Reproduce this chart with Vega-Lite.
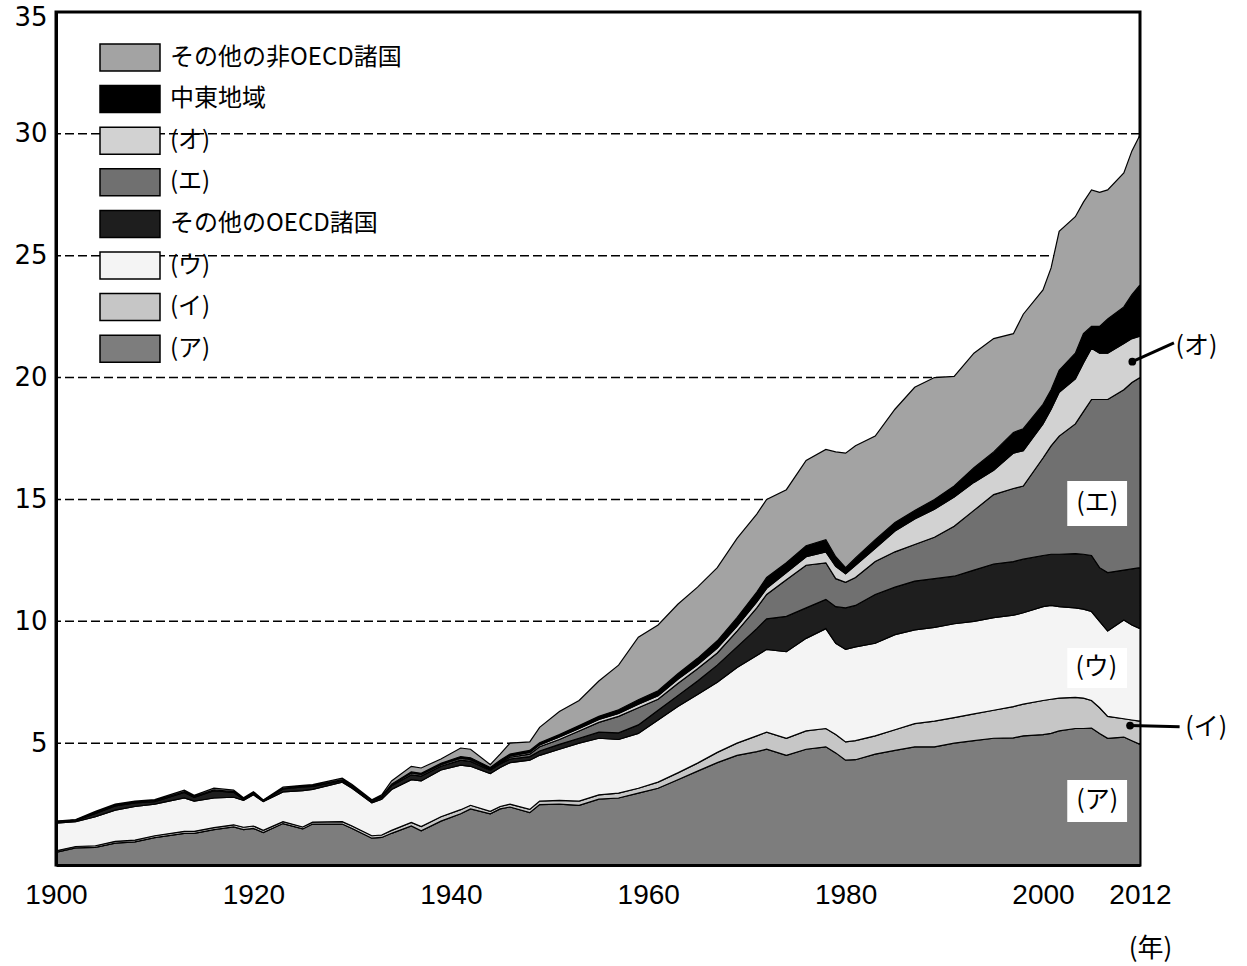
{
  "$schema": "https://vega.github.io/schema/vega-lite/v6.json",
  "width": 1084,
  "height": 853,
  "autosize": {"type": "none"},
  "padding": {"left": 56, "top": 12, "right": 107, "bottom": 101},
  "background": "white",
  "config": {"view": {"stroke": "black", "strokeWidth": 3}, "font": "Noto Sans CJK JP"},
  "datasets": {
    "em": [
{"year":1900,"s":"(ア)","v":0.52},{"year":1900,"s":"(イ)","v":0.06},{"year":1900,"s":"(ウ)","v":1.14},{"year":1900,"s":"その他のOECD諸国","v":0.04},{"year":1900,"s":"(エ)","v":0.01},{"year":1900,"s":"(オ)","v":0.01},{"year":1900,"s":"中東地域","v":0},{"year":1900,"s":"その他の非OECD諸国","v":0.02},
{"year":1902,"s":"(ア)","v":0.70},{"year":1902,"s":"(イ)","v":0.06},{"year":1902,"s":"(ウ)","v":1.02},{"year":1902,"s":"その他のOECD諸国","v":0.04},{"year":1902,"s":"(エ)","v":0.01},{"year":1902,"s":"(オ)","v":0.01},{"year":1902,"s":"中東地域","v":0},{"year":1902,"s":"その他の非OECD諸国","v":0.02},
{"year":1904,"s":"(ア)","v":0.72},{"year":1904,"s":"(イ)","v":0.07},{"year":1904,"s":"(ウ)","v":1.19},{"year":1904,"s":"その他のOECD諸国","v":0.14},{"year":1904,"s":"(エ)","v":0.02},{"year":1904,"s":"(オ)","v":0.01},{"year":1904,"s":"中東地域","v":0},{"year":1904,"s":"その他の非OECD諸国","v":0.05},
{"year":1906,"s":"(ア)","v":0.90},{"year":1906,"s":"(イ)","v":0.07},{"year":1906,"s":"(ウ)","v":1.28},{"year":1906,"s":"その他のOECD諸国","v":0.17},{"year":1906,"s":"(エ)","v":0.02},{"year":1906,"s":"(オ)","v":0.01},{"year":1906,"s":"中東地域","v":0},{"year":1906,"s":"その他の非OECD諸国","v":0.05},
{"year":1908,"s":"(ア)","v":0.95},{"year":1908,"s":"(イ)","v":0.07},{"year":1908,"s":"(ウ)","v":1.38},{"year":1908,"s":"その他のOECD諸国","v":0.15},{"year":1908,"s":"(エ)","v":0.02},{"year":1908,"s":"(オ)","v":0.01},{"year":1908,"s":"中東地域","v":0},{"year":1908,"s":"その他の非OECD諸国","v":0.04},
{"year":1910,"s":"(ア)","v":1.12},{"year":1910,"s":"(イ)","v":0.08},{"year":1910,"s":"(ウ)","v":1.30},{"year":1910,"s":"その他のOECD諸国","v":0.10},{"year":1910,"s":"(エ)","v":0.02},{"year":1910,"s":"(オ)","v":0.01},{"year":1910,"s":"中東地域","v":0},{"year":1910,"s":"その他の非OECD諸国","v":0.05},
{"year":1913,"s":"(ア)","v":1.30},{"year":1913,"s":"(イ)","v":0.08},{"year":1913,"s":"(ウ)","v":1.37},{"year":1913,"s":"その他のOECD諸国","v":0.23},{"year":1913,"s":"(エ)","v":0.02},{"year":1913,"s":"(オ)","v":0.01},{"year":1913,"s":"中東地域","v":0},{"year":1913,"s":"その他の非OECD諸国","v":0.06},
{"year":1914,"s":"(ア)","v":1.30},{"year":1914,"s":"(イ)","v":0.08},{"year":1914,"s":"(ウ)","v":1.24},{"year":1914,"s":"その他のOECD諸国","v":0.16},{"year":1914,"s":"(エ)","v":0.02},{"year":1914,"s":"(オ)","v":0.01},{"year":1914,"s":"中東地域","v":0},{"year":1914,"s":"その他の非OECD諸国","v":0.05},
{"year":1916,"s":"(ア)","v":1.45},{"year":1916,"s":"(イ)","v":0.08},{"year":1916,"s":"(ウ)","v":1.22},{"year":1916,"s":"その他のOECD諸国","v":0.30},{"year":1916,"s":"(エ)","v":0.02},{"year":1916,"s":"(オ)","v":0.01},{"year":1916,"s":"中東地域","v":0},{"year":1916,"s":"その他の非OECD諸国","v":0.07},
{"year":1918,"s":"(ア)","v":1.56},{"year":1918,"s":"(イ)","v":0.09},{"year":1918,"s":"(ウ)","v":1.13},{"year":1918,"s":"その他のOECD諸国","v":0.20},{"year":1918,"s":"(エ)","v":0.02},{"year":1918,"s":"(オ)","v":0.01},{"year":1918,"s":"中東地域","v":0},{"year":1918,"s":"その他の非OECD諸国","v":0.06},
{"year":1919,"s":"(ア)","v":1.45},{"year":1919,"s":"(イ)","v":0.10},{"year":1919,"s":"(ウ)","v":1.10},{"year":1919,"s":"その他のOECD諸国","v":0.05},{"year":1919,"s":"(エ)","v":0.01},{"year":1919,"s":"(オ)","v":0.01},{"year":1919,"s":"中東地域","v":0},{"year":1919,"s":"その他の非OECD諸国","v":0.04},
{"year":1920,"s":"(ア)","v":1.50},{"year":1920,"s":"(イ)","v":0.10},{"year":1920,"s":"(ウ)","v":1.28},{"year":1920,"s":"その他のOECD諸国","v":0.07},{"year":1920,"s":"(エ)","v":0.01},{"year":1920,"s":"(オ)","v":0.01},{"year":1920,"s":"中東地域","v":0},{"year":1920,"s":"その他の非OECD諸国","v":0.04},
{"year":1921,"s":"(ア)","v":1.33},{"year":1921,"s":"(イ)","v":0.09},{"year":1921,"s":"(ウ)","v":1.18},{"year":1921,"s":"その他のOECD諸国","v":0.03},{"year":1921,"s":"(エ)","v":0.01},{"year":1921,"s":"(オ)","v":0.01},{"year":1921,"s":"中東地域","v":0},{"year":1921,"s":"その他の非OECD諸国","v":0.02},
{"year":1923,"s":"(ア)","v":1.70},{"year":1923,"s":"(イ)","v":0.08},{"year":1923,"s":"(ウ)","v":1.22},{"year":1923,"s":"その他のOECD諸国","v":0.12},{"year":1923,"s":"(エ)","v":0.02},{"year":1923,"s":"(オ)","v":0.01},{"year":1923,"s":"中東地域","v":0},{"year":1923,"s":"その他の非OECD諸国","v":0.05},
{"year":1925,"s":"(ア)","v":1.48},{"year":1925,"s":"(イ)","v":0.08},{"year":1925,"s":"(ウ)","v":1.49},{"year":1925,"s":"その他のOECD諸国","v":0.15},{"year":1925,"s":"(エ)","v":0.02},{"year":1925,"s":"(オ)","v":0.01},{"year":1925,"s":"中東地域","v":0},{"year":1925,"s":"その他の非OECD諸国","v":0.04},
{"year":1926,"s":"(ア)","v":1.68},{"year":1926,"s":"(イ)","v":0.08},{"year":1926,"s":"(ウ)","v":1.34},{"year":1926,"s":"その他のOECD諸国","v":0.12},{"year":1926,"s":"(エ)","v":0.02},{"year":1926,"s":"(オ)","v":0.01},{"year":1926,"s":"中東地域","v":0},{"year":1926,"s":"その他の非OECD諸国","v":0.05},
{"year":1929,"s":"(ア)","v":1.68},{"year":1929,"s":"(イ)","v":0.10},{"year":1929,"s":"(ウ)","v":1.62},{"year":1929,"s":"その他のOECD諸国","v":0.06},{"year":1929,"s":"(エ)","v":0.02},{"year":1929,"s":"(オ)","v":0.01},{"year":1929,"s":"中東地域","v":0.01},{"year":1929,"s":"その他の非OECD諸国","v":0.06},
{"year":1930,"s":"(ア)","v":1.50},{"year":1930,"s":"(イ)","v":0.10},{"year":1930,"s":"(ウ)","v":1.55},{"year":1930,"s":"その他のOECD諸国","v":0.05},{"year":1930,"s":"(エ)","v":0.02},{"year":1930,"s":"(オ)","v":0.01},{"year":1930,"s":"中東地域","v":0.01},{"year":1930,"s":"その他の非OECD諸国","v":0.06},
{"year":1932,"s":"(ア)","v":1.10},{"year":1932,"s":"(イ)","v":0.10},{"year":1932,"s":"(ウ)","v":1.35},{"year":1932,"s":"その他のOECD諸国","v":0.05},{"year":1932,"s":"(エ)","v":0.02},{"year":1932,"s":"(オ)","v":0.01},{"year":1932,"s":"中東地域","v":0.01},{"year":1932,"s":"その他の非OECD諸国","v":0.04},
{"year":1933,"s":"(ア)","v":1.13},{"year":1933,"s":"(イ)","v":0.10},{"year":1933,"s":"(ウ)","v":1.47},{"year":1933,"s":"その他のOECD諸国","v":0.08},{"year":1933,"s":"(エ)","v":0.02},{"year":1933,"s":"(オ)","v":0.01},{"year":1933,"s":"中東地域","v":0.01},{"year":1933,"s":"その他の非OECD諸国","v":0.06},
{"year":1934,"s":"(ア)","v":1.30},{"year":1934,"s":"(イ)","v":0.12},{"year":1934,"s":"(ウ)","v":1.68},{"year":1934,"s":"その他のOECD諸国","v":0.15},{"year":1934,"s":"(エ)","v":0.05},{"year":1934,"s":"(オ)","v":0.01},{"year":1934,"s":"中東地域","v":0.01},{"year":1934,"s":"その他の非OECD諸国","v":0.13},
{"year":1936,"s":"(ア)","v":1.60},{"year":1936,"s":"(イ)","v":0.15},{"year":1936,"s":"(ウ)","v":1.75},{"year":1936,"s":"その他のOECD諸国","v":0.20},{"year":1936,"s":"(エ)","v":0.08},{"year":1936,"s":"(オ)","v":0.02},{"year":1936,"s":"中東地域","v":0.02},{"year":1936,"s":"その他の非OECD諸国","v":0.23},
{"year":1937,"s":"(ア)","v":1.40},{"year":1937,"s":"(イ)","v":0.18},{"year":1937,"s":"(ウ)","v":1.87},{"year":1937,"s":"その他のOECD諸国","v":0.20},{"year":1937,"s":"(エ)","v":0.07},{"year":1937,"s":"(オ)","v":0.02},{"year":1937,"s":"中東地域","v":0.02},{"year":1937,"s":"その他の非OECD諸国","v":0.22},
{"year":1939,"s":"(ア)","v":1.80},{"year":1939,"s":"(イ)","v":0.18},{"year":1939,"s":"(ウ)","v":1.92},{"year":1939,"s":"その他のOECD諸国","v":0.15},{"year":1939,"s":"(エ)","v":0.07},{"year":1939,"s":"(オ)","v":0.03},{"year":1939,"s":"中東地域","v":0.02},{"year":1939,"s":"その他の非OECD諸国","v":0.18},
{"year":1941,"s":"(ア)","v":2.10},{"year":1941,"s":"(イ)","v":0.17},{"year":1941,"s":"(ウ)","v":1.83},{"year":1941,"s":"その他のOECD諸国","v":0.20},{"year":1941,"s":"(エ)","v":0.08},{"year":1941,"s":"(オ)","v":0.04},{"year":1941,"s":"中東地域","v":0.03},{"year":1941,"s":"その他の非OECD諸国","v":0.35},
{"year":1942,"s":"(ア)","v":2.30},{"year":1942,"s":"(イ)","v":0.15},{"year":1942,"s":"(ウ)","v":1.60},{"year":1942,"s":"その他のOECD諸国","v":0.20},{"year":1942,"s":"(エ)","v":0.07},{"year":1942,"s":"(オ)","v":0.04},{"year":1942,"s":"中東地域","v":0.04},{"year":1942,"s":"その他の非OECD諸国","v":0.35},
{"year":1944,"s":"(ア)","v":2.10},{"year":1944,"s":"(イ)","v":0.10},{"year":1944,"s":"(ウ)","v":1.55},{"year":1944,"s":"その他のOECD諸国","v":0.13},{"year":1944,"s":"(エ)","v":0.05},{"year":1944,"s":"(オ)","v":0.04},{"year":1944,"s":"中東地域","v":0.03},{"year":1944,"s":"その他の非OECD諸国","v":0.12},
{"year":1945,"s":"(ア)","v":2.30},{"year":1945,"s":"(イ)","v":0.10},{"year":1945,"s":"(ウ)","v":1.60},{"year":1945,"s":"その他のOECD諸国","v":0.15},{"year":1945,"s":"(エ)","v":0.05},{"year":1945,"s":"(オ)","v":0.05},{"year":1945,"s":"中東地域","v":0.05},{"year":1945,"s":"その他の非OECD諸国","v":0.25},
{"year":1946,"s":"(ア)","v":2.38},{"year":1946,"s":"(イ)","v":0.12},{"year":1946,"s":"(ウ)","v":1.70},{"year":1946,"s":"その他のOECD諸国","v":0.15},{"year":1946,"s":"(エ)","v":0.07},{"year":1946,"s":"(オ)","v":0.06},{"year":1946,"s":"中東地域","v":0.07},{"year":1946,"s":"その他の非OECD諸国","v":0.45},
{"year":1948,"s":"(ア)","v":2.15},{"year":1948,"s":"(イ)","v":0.13},{"year":1948,"s":"(ウ)","v":2.02},{"year":1948,"s":"その他のOECD諸国","v":0.15},{"year":1948,"s":"(エ)","v":0.10},{"year":1948,"s":"(オ)","v":0.07},{"year":1948,"s":"中東地域","v":0.08},{"year":1948,"s":"その他の非OECD諸国","v":0.35},
{"year":1949,"s":"(ア)","v":2.48},{"year":1949,"s":"(イ)","v":0.14},{"year":1949,"s":"(ウ)","v":1.88},{"year":1949,"s":"その他のOECD諸国","v":0.18},{"year":1949,"s":"(エ)","v":0.17},{"year":1949,"s":"(オ)","v":0.08},{"year":1949,"s":"中東地域","v":0.09},{"year":1949,"s":"その他の非OECD諸国","v":0.63},
{"year":1951,"s":"(ア)","v":2.50},{"year":1951,"s":"(イ)","v":0.15},{"year":1951,"s":"(ウ)","v":2.10},{"year":1951,"s":"その他のOECD諸国","v":0.20},{"year":1951,"s":"(エ)","v":0.20},{"year":1951,"s":"(オ)","v":0.10},{"year":1951,"s":"中東地域","v":0.10},{"year":1951,"s":"その他の非OECD諸国","v":0.95},
{"year":1953,"s":"(ア)","v":2.45},{"year":1953,"s":"(イ)","v":0.17},{"year":1953,"s":"(ウ)","v":2.38},{"year":1953,"s":"その他のOECD諸国","v":0.20},{"year":1953,"s":"(エ)","v":0.30},{"year":1953,"s":"(オ)","v":0.10},{"year":1953,"s":"中東地域","v":0.12},{"year":1953,"s":"その他の非OECD諸国","v":1.03},
{"year":1955,"s":"(ア)","v":2.70},{"year":1955,"s":"(イ)","v":0.18},{"year":1955,"s":"(ウ)","v":2.32},{"year":1955,"s":"その他のOECD諸国","v":0.25},{"year":1955,"s":"(エ)","v":0.40},{"year":1955,"s":"(オ)","v":0.12},{"year":1955,"s":"中東地域","v":0.13},{"year":1955,"s":"その他の非OECD諸国","v":1.45},
{"year":1957,"s":"(ア)","v":2.75},{"year":1957,"s":"(イ)","v":0.20},{"year":1957,"s":"(ウ)","v":2.20},{"year":1957,"s":"その他のOECD諸国","v":0.27},{"year":1957,"s":"(エ)","v":0.68},{"year":1957,"s":"(オ)","v":0.12},{"year":1957,"s":"中東地域","v":0.15},{"year":1957,"s":"その他の非OECD諸国","v":1.83},
{"year":1959,"s":"(ア)","v":2.95},{"year":1959,"s":"(イ)","v":0.20},{"year":1959,"s":"(ウ)","v":2.25},{"year":1959,"s":"その他のOECD諸国","v":0.35},{"year":1959,"s":"(エ)","v":0.70},{"year":1959,"s":"(オ)","v":0.15},{"year":1959,"s":"中東地域","v":0.18},{"year":1959,"s":"その他の非OECD諸国","v":2.57},
{"year":1961,"s":"(ア)","v":3.15},{"year":1961,"s":"(イ)","v":0.25},{"year":1961,"s":"(ウ)","v":2.55},{"year":1961,"s":"その他のOECD諸国","v":0.40},{"year":1961,"s":"(エ)","v":0.45},{"year":1961,"s":"(オ)","v":0.15},{"year":1961,"s":"中東地域","v":0.20},{"year":1961,"s":"その他の非OECD諸国","v":2.70},
{"year":1963,"s":"(ア)","v":3.50},{"year":1963,"s":"(イ)","v":0.28},{"year":1963,"s":"(ウ)","v":2.72},{"year":1963,"s":"その他のOECD諸国","v":0.45},{"year":1963,"s":"(エ)","v":0.50},{"year":1963,"s":"(オ)","v":0.17},{"year":1963,"s":"中東地域","v":0.23},{"year":1963,"s":"その他の非OECD諸国","v":2.85},
{"year":1965,"s":"(ア)","v":3.85},{"year":1965,"s":"(イ)","v":0.33},{"year":1965,"s":"(ウ)","v":2.82},{"year":1965,"s":"その他のOECD諸国","v":0.55},{"year":1965,"s":"(エ)","v":0.50},{"year":1965,"s":"(オ)","v":0.17},{"year":1965,"s":"中東地域","v":0.26},{"year":1965,"s":"その他の非OECD諸国","v":2.92},
{"year":1967,"s":"(ア)","v":4.20},{"year":1967,"s":"(イ)","v":0.42},{"year":1967,"s":"(ウ)","v":2.88},{"year":1967,"s":"その他のOECD諸国","v":0.70},{"year":1967,"s":"(エ)","v":0.50},{"year":1967,"s":"(オ)","v":0.20},{"year":1967,"s":"中東地域","v":0.30},{"year":1967,"s":"その他の非OECD諸国","v":3.00},
{"year":1969,"s":"(ア)","v":4.50},{"year":1969,"s":"(イ)","v":0.50},{"year":1969,"s":"(ウ)","v":3.10},{"year":1969,"s":"その他のOECD諸国","v":0.85},{"year":1969,"s":"(エ)","v":0.65},{"year":1969,"s":"(オ)","v":0.20},{"year":1969,"s":"中東地域","v":0.35},{"year":1969,"s":"その他の非OECD諸国","v":3.25},
{"year":1971,"s":"(ア)","v":4.65},{"year":1971,"s":"(イ)","v":0.65},{"year":1971,"s":"(ウ)","v":3.30},{"year":1971,"s":"その他のOECD諸国","v":1.10},{"year":1971,"s":"(エ)","v":0.85},{"year":1971,"s":"(オ)","v":0.25},{"year":1971,"s":"中東地域","v":0.40},{"year":1971,"s":"その他の非OECD諸国","v":3.20},
{"year":1972,"s":"(ア)","v":4.75},{"year":1972,"s":"(イ)","v":0.70},{"year":1972,"s":"(ウ)","v":3.40},{"year":1972,"s":"その他のOECD諸国","v":1.25},{"year":1972,"s":"(エ)","v":1.00},{"year":1972,"s":"(オ)","v":0.25},{"year":1972,"s":"中東地域","v":0.45},{"year":1972,"s":"その他の非OECD諸国","v":3.20},
{"year":1974,"s":"(ア)","v":4.50},{"year":1974,"s":"(イ)","v":0.70},{"year":1974,"s":"(ウ)","v":3.55},{"year":1974,"s":"その他のOECD諸国","v":1.45},{"year":1974,"s":"(エ)","v":1.50},{"year":1974,"s":"(オ)","v":0.30},{"year":1974,"s":"中東地域","v":0.40},{"year":1974,"s":"その他の非OECD諸国","v":3.00},
{"year":1976,"s":"(ア)","v":4.75},{"year":1976,"s":"(イ)","v":0.75},{"year":1976,"s":"(ウ)","v":3.80},{"year":1976,"s":"その他のOECD諸国","v":1.25},{"year":1976,"s":"(エ)","v":1.75},{"year":1976,"s":"(オ)","v":0.35},{"year":1976,"s":"中東地域","v":0.45},{"year":1976,"s":"その他の非OECD諸国","v":3.50},
{"year":1978,"s":"(ア)","v":4.85},{"year":1978,"s":"(イ)","v":0.75},{"year":1978,"s":"(ウ)","v":4.10},{"year":1978,"s":"その他のOECD諸国","v":1.20},{"year":1978,"s":"(エ)","v":1.50},{"year":1978,"s":"(オ)","v":0.45},{"year":1978,"s":"中東地域","v":0.50},{"year":1978,"s":"その他の非OECD諸国","v":3.70},
{"year":1979,"s":"(ア)","v":4.60},{"year":1979,"s":"(イ)","v":0.75},{"year":1979,"s":"(ウ)","v":3.75},{"year":1979,"s":"その他のOECD諸国","v":1.50},{"year":1979,"s":"(エ)","v":1.15},{"year":1979,"s":"(オ)","v":0.50},{"year":1979,"s":"中東地域","v":0.40},{"year":1979,"s":"その他の非OECD諸国","v":4.30},
{"year":1980,"s":"(ア)","v":4.30},{"year":1980,"s":"(イ)","v":0.75},{"year":1980,"s":"(ウ)","v":3.80},{"year":1980,"s":"その他のOECD諸国","v":1.70},{"year":1980,"s":"(エ)","v":1.05},{"year":1980,"s":"(オ)","v":0.35},{"year":1980,"s":"中東地域","v":0.25},{"year":1980,"s":"その他の非OECD諸国","v":4.70},
{"year":1981,"s":"(ア)","v":4.32},{"year":1981,"s":"(イ)","v":0.78},{"year":1981,"s":"(ウ)","v":3.85},{"year":1981,"s":"その他のOECD諸国","v":1.70},{"year":1981,"s":"(エ)","v":1.15},{"year":1981,"s":"(オ)","v":0.50},{"year":1981,"s":"中東地域","v":0.30},{"year":1981,"s":"その他の非OECD諸国","v":4.60},
{"year":1983,"s":"(ア)","v":4.55},{"year":1983,"s":"(イ)","v":0.75},{"year":1983,"s":"(ウ)","v":3.80},{"year":1983,"s":"その他のOECD諸国","v":2.00},{"year":1983,"s":"(エ)","v":1.35},{"year":1983,"s":"(オ)","v":0.55},{"year":1983,"s":"中東地域","v":0.35},{"year":1983,"s":"その他の非OECD諸国","v":4.25},
{"year":1985,"s":"(ア)","v":4.70},{"year":1985,"s":"(イ)","v":0.85},{"year":1985,"s":"(ウ)","v":3.90},{"year":1985,"s":"その他のOECD諸国","v":1.95},{"year":1985,"s":"(エ)","v":1.45},{"year":1985,"s":"(オ)","v":0.85},{"year":1985,"s":"中東地域","v":0.35},{"year":1985,"s":"その他の非OECD諸国","v":4.65},
{"year":1987,"s":"(ア)","v":4.85},{"year":1987,"s":"(イ)","v":0.95},{"year":1987,"s":"(ウ)","v":3.85},{"year":1987,"s":"その他のOECD諸国","v":2.00},{"year":1987,"s":"(エ)","v":1.50},{"year":1987,"s":"(オ)","v":1.05},{"year":1987,"s":"中東地域","v":0.35},{"year":1987,"s":"その他の非OECD諸国","v":5.05},
{"year":1989,"s":"(ア)","v":4.85},{"year":1989,"s":"(イ)","v":1.05},{"year":1989,"s":"(ウ)","v":3.85},{"year":1989,"s":"その他のOECD諸国","v":2.00},{"year":1989,"s":"(エ)","v":1.70},{"year":1989,"s":"(オ)","v":1.15},{"year":1989,"s":"中東地域","v":0.40},{"year":1989,"s":"その他の非OECD諸国","v":5.00},
{"year":1991,"s":"(ア)","v":5.00},{"year":1991,"s":"(イ)","v":1.05},{"year":1991,"s":"(ウ)","v":3.85},{"year":1991,"s":"その他のOECD諸国","v":1.95},{"year":1991,"s":"(エ)","v":2.05},{"year":1991,"s":"(オ)","v":1.20},{"year":1991,"s":"中東地域","v":0.45},{"year":1991,"s":"その他の非OECD諸国","v":4.50},
{"year":1993,"s":"(ア)","v":5.10},{"year":1993,"s":"(イ)","v":1.10},{"year":1993,"s":"(ウ)","v":3.80},{"year":1993,"s":"その他のOECD諸国","v":2.10},{"year":1993,"s":"(エ)","v":2.45},{"year":1993,"s":"(オ)","v":1.15},{"year":1993,"s":"中東地域","v":0.60},{"year":1993,"s":"その他の非OECD諸国","v":4.70},
{"year":1995,"s":"(ア)","v":5.20},{"year":1995,"s":"(イ)","v":1.15},{"year":1995,"s":"(ウ)","v":3.80},{"year":1995,"s":"その他のOECD諸国","v":2.20},{"year":1995,"s":"(エ)","v":2.85},{"year":1995,"s":"(オ)","v":1.00},{"year":1995,"s":"中東地域","v":0.75},{"year":1995,"s":"その他の非OECD諸国","v":4.65},
{"year":1997,"s":"(ア)","v":5.22},{"year":1997,"s":"(イ)","v":1.28},{"year":1997,"s":"(ウ)","v":3.75},{"year":1997,"s":"その他のOECD諸国","v":2.20},{"year":1997,"s":"(エ)","v":3.00},{"year":1997,"s":"(オ)","v":1.45},{"year":1997,"s":"中東地域","v":0.85},{"year":1997,"s":"その他の非OECD諸国","v":4.05},
{"year":1998,"s":"(ア)","v":5.30},{"year":1998,"s":"(イ)","v":1.30},{"year":1998,"s":"(ウ)","v":3.75},{"year":1998,"s":"その他のOECD諸国","v":2.20},{"year":1998,"s":"(エ)","v":3.00},{"year":1998,"s":"(オ)","v":1.45},{"year":1998,"s":"中東地域","v":0.90},{"year":1998,"s":"その他の非OECD諸国","v":4.70},
{"year":2000,"s":"(ア)","v":5.35},{"year":2000,"s":"(イ)","v":1.40},{"year":2000,"s":"(ウ)","v":3.85},{"year":2000,"s":"その他のOECD諸国","v":2.10},{"year":2000,"s":"(エ)","v":4.00},{"year":2000,"s":"(オ)","v":1.40},{"year":2000,"s":"中東地域","v":0.80},{"year":2000,"s":"その他の非OECD諸国","v":4.70},
{"year":2001,"s":"(ア)","v":5.40},{"year":2001,"s":"(イ)","v":1.40},{"year":2001,"s":"(ウ)","v":3.85},{"year":2001,"s":"その他のOECD諸国","v":2.10},{"year":2001,"s":"(エ)","v":4.45},{"year":2001,"s":"(オ)","v":1.50},{"year":2001,"s":"中東地域","v":0.80},{"year":2001,"s":"その他の非OECD諸国","v":5.00},
{"year":2002,"s":"(ア)","v":5.50},{"year":2002,"s":"(イ)","v":1.35},{"year":2002,"s":"(ウ)","v":3.75},{"year":2002,"s":"その他のOECD諸国","v":2.15},{"year":2002,"s":"(エ)","v":4.85},{"year":2002,"s":"(オ)","v":1.80},{"year":2002,"s":"中東地域","v":0.90},{"year":2002,"s":"その他の非OECD諸国","v":5.70},
{"year":2004,"s":"(ア)","v":5.60},{"year":2004,"s":"(イ)","v":1.28},{"year":2004,"s":"(ウ)","v":3.67},{"year":2004,"s":"その他のOECD諸国","v":2.23},{"year":2004,"s":"(エ)","v":5.32},{"year":2004,"s":"(オ)","v":1.85},{"year":2004,"s":"中東地域","v":1.05},{"year":2004,"s":"その他の非OECD諸国","v":5.60},
{"year":2005,"s":"(ア)","v":5.60},{"year":2005,"s":"(イ)","v":1.25},{"year":2005,"s":"(ウ)","v":3.65},{"year":2005,"s":"その他のOECD諸国","v":2.25},{"year":2005,"s":"(エ)","v":5.85},{"year":2005,"s":"(オ)","v":2.00},{"year":2005,"s":"中東地域","v":1.20},{"year":2005,"s":"その他の非OECD諸国","v":5.40},
{"year":2006,"s":"(ア)","v":5.62},{"year":2006,"s":"(イ)","v":1.13},{"year":2006,"s":"(ウ)","v":3.65},{"year":2006,"s":"その他のOECD諸国","v":2.30},{"year":2006,"s":"(エ)","v":6.40},{"year":2006,"s":"(オ)","v":2.10},{"year":2006,"s":"中東地域","v":0.90},{"year":2006,"s":"その他の非OECD諸国","v":5.60},
{"year":2007,"s":"(ア)","v":5.40},{"year":2007,"s":"(イ)","v":1.05},{"year":2007,"s":"(ウ)","v":3.55},{"year":2007,"s":"その他のOECD諸国","v":2.20},{"year":2007,"s":"(エ)","v":6.90},{"year":2007,"s":"(オ)","v":1.90},{"year":2007,"s":"中東地域","v":1.10},{"year":2007,"s":"その他の非OECD諸国","v":5.50},
{"year":2008,"s":"(ア)","v":5.20},{"year":2008,"s":"(イ)","v":0.90},{"year":2008,"s":"(ウ)","v":3.50},{"year":2008,"s":"その他のOECD諸国","v":2.40},{"year":2008,"s":"(エ)","v":7.10},{"year":2008,"s":"(オ)","v":1.90},{"year":2008,"s":"中東地域","v":1.40},{"year":2008,"s":"その他の非OECD諸国","v":5.30},
{"year":2010,"s":"(ア)","v":5.25},{"year":2010,"s":"(イ)","v":0.75},{"year":2010,"s":"(ウ)","v":4.05},{"year":2010,"s":"その他のOECD諸国","v":2.05},{"year":2010,"s":"(エ)","v":7.40},{"year":2010,"s":"(オ)","v":1.90},{"year":2010,"s":"中東地域","v":1.50},{"year":2010,"s":"その他の非OECD諸国","v":5.50},
{"year":2011,"s":"(ア)","v":5.10},{"year":2011,"s":"(イ)","v":0.85},{"year":2011,"s":"(ウ)","v":3.90},{"year":2011,"s":"その他のOECD諸国","v":2.30},{"year":2011,"s":"(エ)","v":7.65},{"year":2011,"s":"(オ)","v":1.80},{"year":2011,"s":"中東地域","v":1.80},{"year":2011,"s":"その他の非OECD諸国","v":5.90},
{"year":2012,"s":"(ア)","v":4.95},{"year":2012,"s":"(イ)","v":0.95},{"year":2012,"s":"(ウ)","v":3.80},{"year":2012,"s":"その他のOECD諸国","v":2.50},{"year":2012,"s":"(エ)","v":7.80},{"year":2012,"s":"(オ)","v":1.70},{"year":2012,"s":"中東地域","v":2.10},{"year":2012,"s":"その他の非OECD諸国","v":6.15}
    ],
    "grid": [{"g": 5}, {"g": 10}, {"g": 15}, {"g": 20}, {"g": 25}, {"g": 30}],
    "boxes": [
      {"x1": 2003.0, "x2": 2010.4, "y1": 1.76, "y2": 3.49},
      {"x1": 2003.0, "x2": 2010.4, "y1": 7.26, "y2": 8.9},
      {"x1": 2003.0, "x2": 2010.4, "y1": 13.91, "y2": 15.76}
    ],
    "inLabels": [
      {"yr": 2006.7, "v": 2.67, "t": "(ア)"},
      {"yr": 2006.6, "v": 8.12, "t": "(ウ)"},
      {"yr": 2006.7, "v": 14.85, "t": "(エ)"}
    ],
    "outLabels": [
      {"yr": 2016.4, "v": 21.3, "t": "(オ)"},
      {"yr": 2017.6, "v": 5.66, "t": "(イ)"}
    ],
    "leaders": [
      {"x1": 2011.05, "y1": 20.65, "x2": 2016.2, "y2": 21.42},
      {"x1": 2010.77, "y1": 5.72, "x2": 2016.9, "y2": 5.67}
    ]
  },
  "layer": [
    {
      "data": {"name": "grid"},
      "mark": {"type": "rule", "color": "black", "strokeWidth": 1.5, "strokeDash": [9, 4]},
      "encoding": {"y": {"field": "g", "type": "quantitative", "scale": {"domain": [0, 35], "nice": false, "zero": true}}}
    },
    {
      "data": {"name": "em"},
      "transform": [
        {"calculate": "indexof(['(ア)','(イ)','(ウ)','その他のOECD諸国','(エ)','(オ)','中東地域','その他の非OECD諸国'], datum.s)", "as": "ord"}
      ],
      "mark": {"type": "area", "stroke": "black", "strokeWidth": 1.2, "opacity": 1, "fillOpacity": 1, "interpolate": "linear"},
      "encoding": {
        "x": {
          "field": "year", "type": "quantitative",
          "scale": {"domain": [1900, 2000, 2012], "range": [0, 987, 1084], "nice": false, "zero": false},
          "axis": {
            "values": [1900, 1920, 1940, 1960, 1980, 2000, 2012], "format": "d",
            "labelFont": "Liberation Sans", "labelFontSize": 28, "labelColor": "black",
            "labelFlush": false, "labelOverlap": false, "labelPadding": 16,
            "tickSize": 0, "grid": false, "domainColor": "black", "domainWidth": 3, "zindex": 1,
            "title": "(年)", "titleFont": "Noto Sans CJK JP", "titleFontSize": 26, "titleFontWeight": "normal",
            "titleColor": "black", "titleX": 1094, "titleY": 83, "titleAlign": "center", "titleBaseline": "middle", "titleAnchor": null
          }
        },
        "y": {
          "field": "v", "type": "quantitative", "stack": "zero",
          "scale": {"domain": [0, 35], "nice": false, "zero": true},
          "axis": {
            "values": [5, 10, 15, 20, 25, 30, 35], "labelFont": "DejaVu Sans", "labelFontSize": 26, "labelColor": "black",
            "labelPadding": 9, "tickSize": 0, "grid": false, "domainColor": "black", "domainWidth": 3, "zindex": 1, "title": null, "labelFlush": false,
            "labelOffset": {"condition": {"test": "datum.value == 35", "value": 5}, "value": 0}
          }
        },
        "color": {
          "field": "s", "type": "nominal",
          "scale": {
            "domain": ["その他の非OECD諸国", "中東地域", "(オ)", "(エ)", "その他のOECD諸国", "(ウ)", "(イ)", "(ア)"],
            "range": ["#a3a3a3", "#000000", "#d2d2d2", "#707070", "#1e1e1e", "#f4f4f4", "#c6c6c6", "#7d7d7d"]
          },
          "legend": {
            "orient": "none", "legendX": 58, "legendY": 29.5, "title": null, "padding": 0,
            "symbolType": "M-2,-0.9H2V0.9H-2Z", "symbolSize": 900, "symbolStrokeColor": "black", "symbolStrokeWidth": 1.5, "symbolOpacity": 1,
            "labelFont": "Noto Sans CJK JP", "labelFontSize": 24, "labelColor": "black", "labelOffset": 24, "labelLimit": 400,
            "rowPadding": 7.6
          }
        },
        "order": {"field": "ord", "type": "quantitative"}
      }
    },
    {
      "data": {"name": "boxes"},
      "mark": {"type": "rect", "fill": "white", "strokeWidth": 0},
      "encoding": {
        "x": {"field": "x1", "type": "quantitative"},
        "x2": {"field": "x2"},
        "y": {"field": "y1", "type": "quantitative"},
        "y2": {"field": "y2"}
      }
    },
    {
      "data": {"name": "inLabels"},
      "mark": {"type": "text", "font": "Noto Sans CJK JP", "fontSize": 25, "color": "black", "align": "center", "baseline": "middle"},
      "encoding": {
        "x": {"field": "yr", "type": "quantitative"},
        "y": {"field": "v", "type": "quantitative"},
        "text": {"field": "t"}
      }
    },
    {
      "data": {"name": "outLabels"},
      "mark": {"type": "text", "font": "Noto Sans CJK JP", "fontSize": 25, "color": "black", "align": "left", "baseline": "middle"},
      "encoding": {
        "x": {"field": "yr", "type": "quantitative"},
        "y": {"field": "v", "type": "quantitative"},
        "text": {"field": "t"}
      }
    },
    {
      "data": {"name": "leaders"},
      "mark": {"type": "rule", "color": "black", "strokeWidth": 3},
      "encoding": {
        "x": {"field": "x1", "type": "quantitative"},
        "y": {"field": "y1", "type": "quantitative"},
        "x2": {"field": "x2"},
        "y2": {"field": "y2"}
      }
    },
    {
      "data": {"name": "leaders"},
      "mark": {"type": "point", "filled": true, "color": "black", "size": 60, "opacity": 1},
      "encoding": {
        "x": {"field": "x1", "type": "quantitative"},
        "y": {"field": "y1", "type": "quantitative"}
      }
    },
    {
      "mark": {"type": "rule", "color": "black", "strokeWidth": 3},
      "encoding": {"x": {"datum": 2012}}
    },
    {
      "mark": {"type": "rule", "color": "black", "strokeWidth": 3},
      "encoding": {"y": {"datum": 35}}
    }
  ]
}
